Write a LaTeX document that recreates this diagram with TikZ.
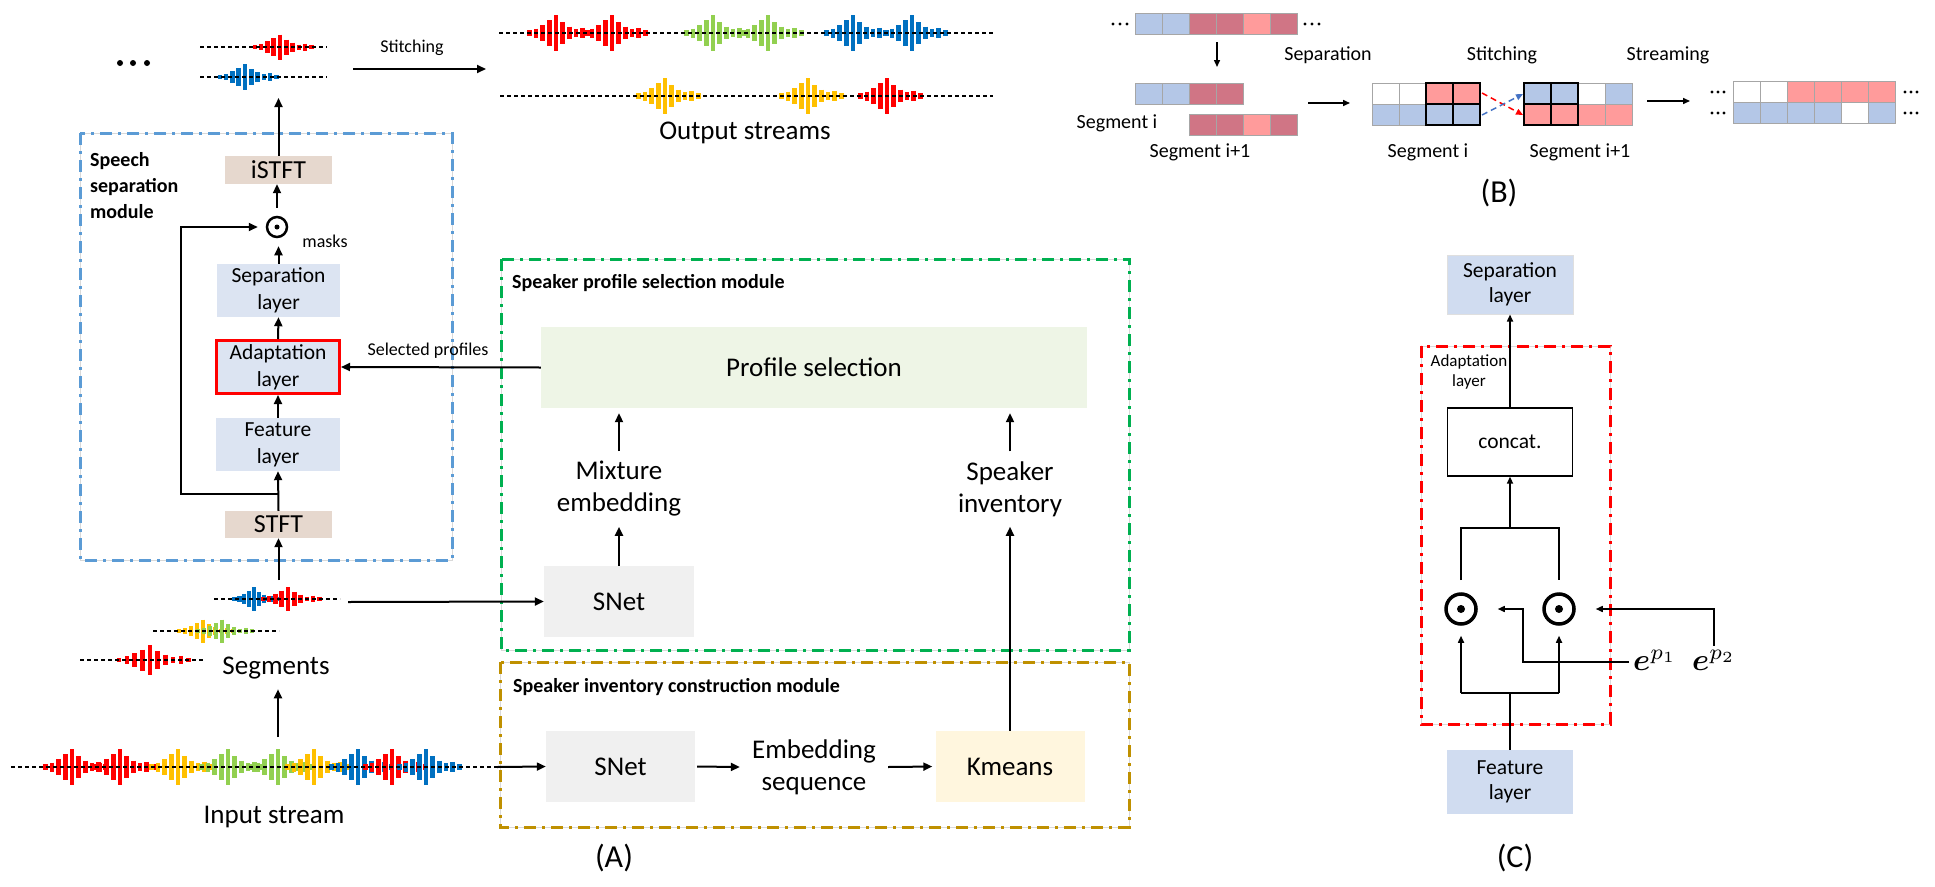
\documentclass[tikz,border=0pt]{standalone}
\usepackage{amsmath}
\usepackage{bm}
\usepackage{graphicx}
\usepackage{fontspec}
\setmainfont{Carlito}
\usetikzlibrary{arrows.meta,calc}
\definecolor{cblue}{HTML}{5B9BD5}
\definecolor{cgreen}{HTML}{00B050}
\definecolor{cgold}{HTML}{BF9000}
\definecolor{cred}{HTML}{FF0000}
\definecolor{cstft}{HTML}{E6D8CE}
\definecolor{clayer}{HTML}{DCE4F2}
\definecolor{clayerC}{HTML}{D0DCF0}
\definecolor{csnet}{HTML}{F0F0F0}
\definecolor{cprof}{HTML}{EEF5E6}
\definecolor{ckm}{HTML}{FFF6DE}
\definecolor{cwr}{HTML}{FF0000}
\definecolor{cwb}{HTML}{0070C0}
\definecolor{cwg}{HTML}{92D050}
\definecolor{cwy}{HTML}{FFC000}
\definecolor{cb}{HTML}{B4C7E7}
\definecolor{cr}{HTML}{D07585}
\definecolor{cp}{HTML}{FF9B9B}
\definecolor{cdb}{HTML}{4472C4}
\newcommand{\fsz}[2]{\fontsize{#1}{#2}\selectfont}
\newcommand{\wburst}[5]{%
  \foreach \dx/\r in {-28/0.15,-21/0.25,-14/0.45,-7/0.7,0/1,7/0.6,14/0.36,21/0.2,28/0.28,35/0.14}{%
    \draw[#3,line width=4.5pt] ({#1+\dx*#5},{#2-\r*#4/2}) -- ({#1+\dx*#5},{#2+\r*#4/2});
  }}
\newcommand{\cellrow}[4]{%
  \foreach \c [count=\i from 0] in {#4}{%
    \draw[draw=gray!70,line width=0.8pt,fill=\c] ({#1+27*\i},#2) rectangle ++(27,#3);
  }}
\begin{document}
\begin{tikzpicture}[x=1pt,y=-1pt,
  arr/.style={-{Triangle[length=9pt,width=8pt]},line width=2pt},
  arrb/.style={-{Triangle[length=7pt,width=6pt]},line width=1.5pt},
  arrc/.style={-{Triangle[length=7pt,width=6pt]},line width=1.5pt},
  box/.style={rectangle,inner sep=0pt,align=center},
  lbl/.style={inner sep=0pt,align=center},
  dashdot/.style={line width=3pt,dash pattern=on 12pt off 6pt on 3pt off 6pt},
  framegray/.style={draw=gray!30,line width=1pt},
  wline/.style={line width=1.2pt,dash pattern=on 4pt off 3pt},
  big/.style={font=\fsz{27}{32}},
  blab/.style={lbl,font=\fsz{20}{24}}
]
\useasboundingbox (0,0) rectangle (1935,886);
\fill[white] (0,0) rectangle (1935,886);

% ================= Part A: module frames =================
\draw[framegray] (80,133) rectangle (452,560);
\draw[dashdot,cblue] (80,133) rectangle (452,560);
\draw[framegray] (501,259) rectangle (1129,650);
\draw[dashdot,cgreen] (501,259) rectangle (1129,650);
\draw[framegray] (500,662) rectangle (1129,827);
\draw[dashdot,cgold] (500,662) rectangle (1129,827);

\node[lbl,anchor=west,align=left,font=\fsz{20}{26}\bfseries] (ssm) at (90,186) {Speech\\separation\\module};
\node[lbl,anchor=west,font=\fsz{20}{25}\bfseries] (pst) at (512,283) {Speaker profile selection module};
\node[lbl,anchor=west,font=\fsz{20}{25}\bfseries] (ict) at (513,687) {Speaker inventory construction module};

% speech separation module
\node[box,fill=cstft,minimum width=107pt,minimum height=28pt,font=\fsz{26}{30}] (istft) at (278.5,170) {iSTFT};
\node[circle,draw,line width=2.5pt,minimum size=20pt,inner sep=0pt] (odA) at (277,227) {};
\fill (odA.center) circle (2.5pt);
\node[lbl,font=\fsz{18}{22}] (masks) at (325,241) {masks};
\node[box,fill=clayer,minimum width=123pt,minimum height=53pt,font=\fsz{21.5}{27}] (sepA) at (278.5,290.5) {Separation\\layer};
\node[box,fill=clayer,draw=cred,line width=3pt,minimum width=123pt,minimum height=53pt,font=\fsz{21.5}{27}] (adaA) at (278,367) {Adaptation\\layer};
\node[box,fill=clayer,minimum width=124pt,minimum height=53pt,font=\fsz{21.5}{27}] (featA) at (278,444.5) {Feature\\layer};
\node[box,fill=cstft,minimum width=107pt,minimum height=27pt,font=\fsz{26}{30}] (stftA) at (278.5,524.5) {STFT};

\coordinate (wtop) at (278.5,98);
\coordinate (skipj) at (278.5,494);
\coordinate (skipk) at (181,494);
\draw[arr] (istft.north) -- (wtop);
\draw[arr,shorten <=8pt] (odA.north) -- (odA.north |- istft.south);
\draw[arr,shorten >=8pt] (sepA.north) -- (sepA.north |- odA.south);
\draw[arr] (adaA.north) -- (sepA.south);
\draw[arr] (featA.north) -- (adaA.south);
\draw[arr] (stftA.north) -- (featA.south);
\draw[arr,shorten >=8pt] (skipj) -- (skipk) |- (odA.west);

% top separated waveforms
\foreach \x in {120,133,147} \fill (\x,63) circle (3pt);
\wburst{280}{47}{cwr}{25}{0.9}
\draw[wline] (200,47) -- (327,47);
\wburst{245}{77}{cwb}{26}{0.9}
\draw[wline] (200,77) -- (327,77);

% stitching arrow
\coordinate (st1) at (353,69);
\coordinate (st2) at (486,69);
\draw[arr] (st1) -- (st2);
\node[lbl,font=\fsz{18}{22}] (stl) at (412,48) {Stitching};

% output streams
\wburst{556}{33}{cwr}{36}{0.95}
\wburst{612}{33}{cwr}{36}{0.95}
\wburst{713}{33}{cwg}{36}{0.95}
\wburst{768}{33}{cwg}{36}{0.95}
\wburst{853}{33}{cwb}{36}{0.95}
\wburst{912}{33}{cwb}{36}{0.95}
\draw[wline] (499,33) -- (993,33);
\wburst{665}{96}{cwy}{36}{0.95}
\wburst{808}{96}{cwy}{36}{0.95}
\wburst{887}{96}{cwr}{36}{0.95}
\draw[wline] (500,96) -- (993,96);
\node[lbl,big] (outs) at (745,133) {Output streams};

% segments
\wburst{254}{599}{cwb}{24}{0.7}
\wburst{288}{599}{cwr}{24}{0.9}
\draw[wline] (214,599) -- (340,599);
\wburst{203}{631}{cwy}{23}{0.85}
\wburst{222}{631}{cwg}{23}{0.85}
\draw[wline] (153,631) -- (279,631);
\wburst{150}{660}{cwr}{30}{1.1}
\draw[wline] (80,660) -- (205,660);
\node[lbl,big] (segs) at (276,668) {Segments};

% input stream
\wburst{72}{767}{cwr}{36}{0.95}
\wburst{120}{767}{cwr}{36}{0.95}
\wburst{178}{767}{cwy}{36}{0.95}
\wburst{228}{767}{cwg}{36}{0.95}
\wburst{278}{767}{cwg}{36}{0.95}
\wburst{314}{767}{cwy}{36}{0.95}
\wburst{358}{767}{cwb}{36}{0.95}
\wburst{392}{767}{cwr}{36}{0.95}
\wburst{426}{767}{cwb}{36}{0.95}
\draw[wline] (11,767) -- (497,767);
\node[lbl,big] (instr) at (274,817) {Input stream};

\coordinate (inup) at (278,737);
\coordinate (segtop) at (278.5,580);
\coordinate (seg1e) at (348,602);
\coordinate (ine) at (497,767);
\draw[arr,shorten >=10pt] (inup) -- (inup |- segs.south);
\draw[arr] (segtop) -- (stftA.south);

% speaker profile selection module
\node[box,fill=cprof,minimum width=546pt,minimum height=81pt,big] (profsel) at (814,367.5) {Profile selection};
\node[lbl,big,inner sep=10pt] (mixemb) at (619,489) {Mixture\\embedding};
\node[box,fill=csnet,minimum width=150pt,minimum height=71pt,big] (snetA) at (619,601.5) {SNet};
\node[lbl,big,inner sep=10pt] (spkinv) at (1010,489) {Speaker\\inventory};
\draw[arr,shorten >=5pt] (mixemb) -- (mixemb |- profsel.south);
\draw[arr] (snetA) -- (mixemb);
\draw[arr,shorten >=5pt] (spkinv) -- (spkinv |- profsel.south);
\draw[arr] (seg1e) -- (snetA.west);

\node[lbl,font=\fsz{18}{22}] (selp) at (428,351) {Selected profiles};
\draw[arr] (profsel.west) -- (adaA.east);

% speaker inventory construction module
\node[box,fill=csnet,minimum width=149pt,minimum height=71pt,big] (snetB) at (620.5,766.5) {SNet};
\node[lbl,big,inner sep=12pt] (embseq) at (814,767) {Embedding\\sequence};
\node[box,fill=ckm,minimum width=149pt,minimum height=71pt,big] (kmeans) at (1010,766.5) {Kmeans};
\draw[arr] (ine) -- (snetB.west);
\draw[arr,shorten <=2pt] (snetB.east) -- (embseq.west);
\draw[arr,shorten >=3pt] (embseq.east) -- (kmeans.west);
\draw[arr] (kmeans) -- (spkinv);

\node[lbl,font=\fsz{32}{36}] (labA) at (614,858) {(A)};

% ================= Part B =================
\foreach \x in {1113,1120,1127} \fill (\x,24) circle (1.6pt);
\cellrow{1135}{13}{21}{cb,cb,cr,cr,cp,cr}
\foreach \x in {1305,1312,1319} \fill (\x,24) circle (1.6pt);

\coordinate (b1a) at (1217,42);
\coordinate (b1b) at (1217,67);
\draw[arrb] (b1a) -- (b1b);

\node[blab] (bsep) at (1328,55) {Separation};
\node[blab] (bsti) at (1502,55) {Stitching};
\node[blab] (bstr) at (1668,55) {Streaming};

\cellrow{1135}{83}{21}{cb,cb,cr,cr}
\cellrow{1189}{114}{21}{cr,cr,cp,cr}
\node[blab] (bsi) at (1117,123) {Segment i};
\node[blab] (bsi1) at (1200,152) {Segment i+1};

\coordinate (b2a) at (1308,103);
\coordinate (b2b) at (1350,103);
\draw[arrb] (b2a) -- (b2b);

\cellrow{1372}{83}{21}{white,white,cp,cp}
\cellrow{1372}{104}{21}{cb,cb,cb,cb}
\draw[line width=1.8pt] (1426,83) rectangle (1480,125);
\draw[line width=1.8pt] (1426,104) -- (1480,104) (1453,83) -- (1453,125);

\cellrow{1524}{83}{21}{cb,cb,white,cb}
\cellrow{1524}{104}{21}{cp,cp,cp,cp}
\draw[line width=1.8pt] (1524,83) rectangle (1578,125);
\draw[line width=1.8pt] (1524,104) -- (1578,104) (1551,83) -- (1551,125);

\coordinate (rda) at (1482,93);
\coordinate (rdb) at (1523,115);
\coordinate (bda) at (1482,115);
\coordinate (bdb) at (1523,94);
\draw[cred,line width=1.5pt,dash pattern=on 6pt off 4pt,-{Triangle[length=7pt,width=6pt]}] (rda) -- (rdb);
\draw[cdb,line width=1.5pt,dash pattern=on 6pt off 4pt,-{Triangle[length=7pt,width=6pt]}] (bda) -- (bdb);

\node[blab] (bsi2) at (1428,152) {Segment i};
\node[blab] (bsi3) at (1580,152) {Segment i+1};

\coordinate (b3a) at (1647,101);
\coordinate (b3b) at (1690,101);
\draw[arrb] (b3a) -- (b3b);

\foreach \y in {92,113} {\foreach \x in {1712,1718,1724} \fill (\x,\y) circle (1.6pt);}
\cellrow{1733}{81}{21}{white,white,cp,cp,cp,cp}
\cellrow{1733}{102}{21}{cb,cb,cb,cb,white,cb}
\foreach \y in {92,113} {\foreach \x in {1905,1911,1917} \fill (\x,\y) circle (1.6pt);}

\node[lbl,font=\fsz{32}{36}] (labB) at (1499,193) {(B)};

% ================= Part C =================
\draw[framegray] (1421,346) rectangle (1610,724);
\draw[dashdot,cred] (1421,346) rectangle (1610,724);
\node[box,fill=clayerC,draw=gray!25,line width=1pt,minimum width=126pt,minimum height=59pt,font=\fsz{21.5}{25}] (sepC) at (1510,284.5) {Separation\\layer};
\node[lbl,font=\fsz{17}{20}] (adalC) at (1469,372) {Adaptation\\layer};
\node[box,draw,line width=1.3pt,fill=white,minimum width=125pt,minimum height=68pt,font=\fsz{21.5}{25}] (concat) at (1510,442) {concat.};
\node[box,fill=clayerC,minimum width=126pt,minimum height=64pt,font=\fsz{21.5}{25}] (featC) at (1510,782) {Feature\\layer};

\node[circle,draw,line width=3.5pt,minimum size=30pt,inner sep=0pt] (odC1) at (1461,609) {};
\fill (odC1.center) circle (4pt);
\node[circle,draw,line width=3.5pt,minimum size=30pt,inner sep=0pt] (odC2) at (1559,609) {};
\fill (odC2.center) circle (4pt);

\coordinate (cj1) at (1510,528);
\coordinate (cbl) at (1461,580);
\coordinate (cbr) at (1559,580);
\draw[line width=1.5pt] (cbl) |- (cj1) -| (cbr);
\draw[arrc] (cj1) -- (concat.south);
\draw[arrc] (concat.north) -- (sepC.south);

\coordinate (cj2) at (1510,693);
\coordinate (cb1) at (1461,693);
\coordinate (cb2) at (1559,693);
\draw[line width=1.5pt] (cb1) -- (cb2);
\draw[line width=1.5pt] (featC.north) -- (cj2);
\draw[arrc,shorten >=10pt] (cb1) -- (odC1.south);
\draw[arrc,shorten >=10pt] (cb2) -- (odC2.south);

\node[lbl,inner sep=4pt] (ep1) at (1655,660) {\scalebox{3.1}{$\bm{e}^{p_1}$}};
\node[lbl,inner sep=4pt] (ep2) at (1714,660) {\scalebox{3.1}{$\bm{e}^{p_2}$}};
\coordinate (ek) at (1523,662);
\draw[arrc,shorten >=20pt] (ep1.west |- ek) -- (ek) |- (odC1);
\draw[arrc,shorten >=20pt] (ep2.north) |- (odC2);

\node[lbl,font=\fsz{32}{36}] (labC) at (1515,858) {(C)};
\end{tikzpicture}
\end{document}
